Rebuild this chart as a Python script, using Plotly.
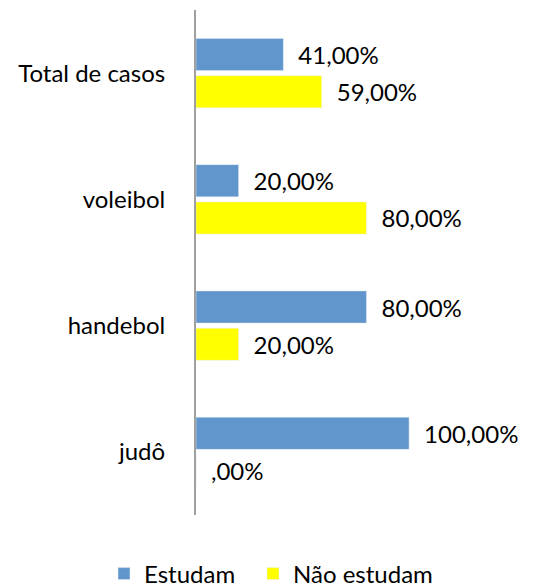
import plotly.graph_objects as go

# dados do gráfico
categorias = ['judô', 'handebol', 'voleibol', 'Total de casos']
estudam = [1.00, 0.80, 0.20, 0.41]
nao_estudam = [0.00, 0.20, 0.80, 0.59]
rotulos_estudam = ['100,00%', '80,00%', '20,00%', '41,00%']
rotulos_nao_estudam = [',00%', '20,00%', '80,00%', '59,00%']

cor_azul = '#6096CB'
cor_amarela = '#FFFF00'
fonte = 'Lato'

# a página tem 8px de margem no body, então a figura é um pouco menor
W, H = 531, 580

fig = go.Figure()
# a amarela entra primeiro para ficar embaixo dentro de cada grupo
fig.add_trace(go.Bar(
    y=categorias, x=nao_estudam, orientation='h', name='Não estudam',
    marker=dict(color=cor_amarela), legend='legend2',
    text=['\u2002' + t for t in rotulos_nao_estudam], textposition='outside',
    textfont=dict(family=fonte, size=24, color='black'), cliponaxis=False,
))
fig.add_trace(go.Bar(
    y=categorias, x=estudam, orientation='h', name='Estudam',
    marker=dict(color=cor_azul), legend='legend',
    text=['\u2002' + t for t in rotulos_estudam], textposition='outside',
    textfont=dict(family=fonte, size=24, color='black'), cliponaxis=False,
))

legenda = dict(
    orientation='h', xref='container', xanchor='left',
    yref='container', y=(H - 566) / H, yanchor='middle',
    font=dict(size=24), bgcolor='rgba(0,0,0,0)',
)

fig.update_layout(
    width=W, height=H,
    margin=dict(t=2, b=73, l=188, r=66, autoexpand=False),
    paper_bgcolor='white',
    plot_bgcolor='white',
    font=dict(family=fonte, size=24, color='black'),
    barmode='group',
    bargap=0.41,
    bargroupgap=0.135,
    showlegend=True,
    legend=dict(legenda, x=96 / W),
    legend2=dict(legenda, x=245 / W),
    xaxis=dict(range=[0, 1.3], visible=False),
    yaxis=dict(
        categoryorder='array', categoryarray=categorias,
        showline=True, linecolor='#a0a0a0', linewidth=2,
        showgrid=False, ticks='', ticklabelstandoff=24, automargin=False,
        tickfont=dict(family=fonte, size=24),
    ),
)

fig.write_html('out.html')
